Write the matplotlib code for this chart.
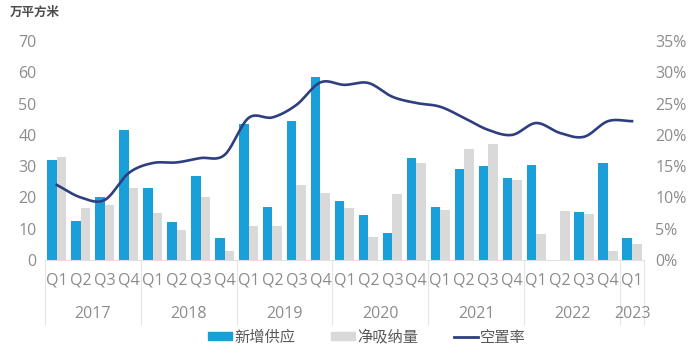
import numpy as np
import matplotlib
matplotlib.use("Agg")
import matplotlib.pyplot as plt
from matplotlib.patches import Patch
from matplotlib.lines import Line2D
from matplotlib import transforms

plt.rcParams['font.family'] = ['Open Sans', 'Noto Sans CJK SC', 'DejaVu Sans']

years = ['2017', '2018', '2019', '2020', '2021', '2022', '2023']
quarters = ['Q1', 'Q2', 'Q3', 'Q4'] * 6 + ['Q1']
supply = [32, 12.5, 20, 41.5, 23, 12.3, 27, 7, 43.5, 17, 44.5, 58.5,
          19, 14.3, 8.7, 32.5, 16.8, 29, 30, 26.1, 30.5, 0, 15.5, 31, 6.9]
absorption = [33, 16.6, 17.5, 23, 15, 9.5, 20, 3, 11, 11, 24, 21.5,
              16.5, 7.4, 21, 31, 16, 35.5, 37, 25.5, 8.3, 15.7, 14.6, 3, 5.1]
vacancy = [12.0, 10.0, 9.6, 13.9, 15.5, 15.6, 16.3, 16.8, 22.7, 22.8, 24.8, 28.4,
           28.0, 28.3, 26.1, 25.1, 24.5, 22.7, 20.8, 20.0, 21.9, 20.3, 19.7, 22.2, 22.2]
year_counts = [4, 4, 4, 4, 4, 4, 1]

BLUE = '#1A9FD9'
GREY = '#D9D9D9'
NAVY = '#2E3F7F'
TXT = '#8C8C8C'

fig = plt.figure(figsize=(7.0, 3.54), dpi=100)
ax = fig.add_axes([0.064, 0.2655, 0.856, 0.6185])
n = len(supply)
x = np.arange(n)
w = 0.4
ax.bar(x - w/2, supply, width=w, color=BLUE, zorder=2)
ax.bar(x + w/2, absorption, width=w, color=GREY, zorder=2)
ax.set_xlim(-0.5, n - 0.5)
ax.set_ylim(0, 70)
ax.set_yticks(range(0, 71, 10))
ax.tick_params(axis='y', length=0, labelsize=11.5, labelcolor=TXT, pad=6)
for s in ['top', 'right', 'left']:
    ax.spines[s].set_visible(False)
ax.spines['bottom'].set_color('#E0E0E0')
ax.set_xticks(x)
ax.set_xticklabels(quarters)
ax.tick_params(axis='x', length=0, labelsize=11.5, labelcolor=TXT, pad=9)

# two-level category axis
trans = transforms.blended_transform_factory(ax.transData, ax.transAxes)
bounds = np.concatenate([[0], np.cumsum(year_counts)]) - 0.5
for b in bounds:
    ax.plot([b, b], [0, -0.29], transform=trans, color='#E6E6E6', lw=0.8, clip_on=False)
for i, yr in enumerate(years):
    c = (bounds[i] + bounds[i+1]) / 2
    ax.text(c, -0.245, yr, transform=trans, ha='center', va='center', fontsize=11.5, color=TXT)

# vacancy rate line (smoothed)
ax2 = ax.twinx()
ax2.set_ylim(0, 35)
ax2.set_yticks(range(0, 36, 5))
ax2.set_yticklabels([f'{v}%' for v in range(0, 36, 5)])
ax2.tick_params(axis='y', length=0, labelsize=11.5, labelcolor=TXT, pad=8)
for s in ax2.spines.values():
    s.set_visible(False)
xv = x.astype(float)
yv = np.array(vacancy, dtype=float)
px = np.concatenate([[2*xv[0]-xv[1]], xv, [2*xv[-1]-xv[-2]]])
py = np.concatenate([[2*yv[0]-yv[1]], yv, [2*yv[-1]-yv[-2]]])
sx, sy = [], []
t = np.linspace(0, 1, 20, endpoint=False)
for i in range(1, len(px) - 2):
    p0, p1, p2, p3 = py[i-1], py[i], py[i+1], py[i+2]
    yy = 0.5 * ((2*p1) + (-p0 + p2)*t + (2*p0 - 5*p1 + 4*p2 - p3)*t**2 + (-p0 + 3*p1 - 3*p2 + p3)*t**3)
    sx.extend(px[i] + t); sy.extend(yy)
sx.append(xv[-1]); sy.append(yv[-1])
ax2.plot(sx, sy, color=NAVY, lw=1.9, zorder=3)

fig.text(0.014, 0.966, '万平方米', fontsize=9, color='#4D4D4D', ha='left', va='center',
         fontweight='bold')

handles = [Patch(color=BLUE), Patch(color=GREY), Line2D([0], [0], color=NAVY, lw=2)]
fig.legend(handles, ['新增供应', '净吸纳量', '空置率'], loc='center', bbox_to_anchor=(0.524, 0.045),
           ncol=3, frameon=False, fontsize=11, labelcolor='#595959', handlelength=1.57,
           handleheight=0.45, columnspacing=2.35, handletextpad=0.15)

fig.savefig('out.png', dpi=100)
